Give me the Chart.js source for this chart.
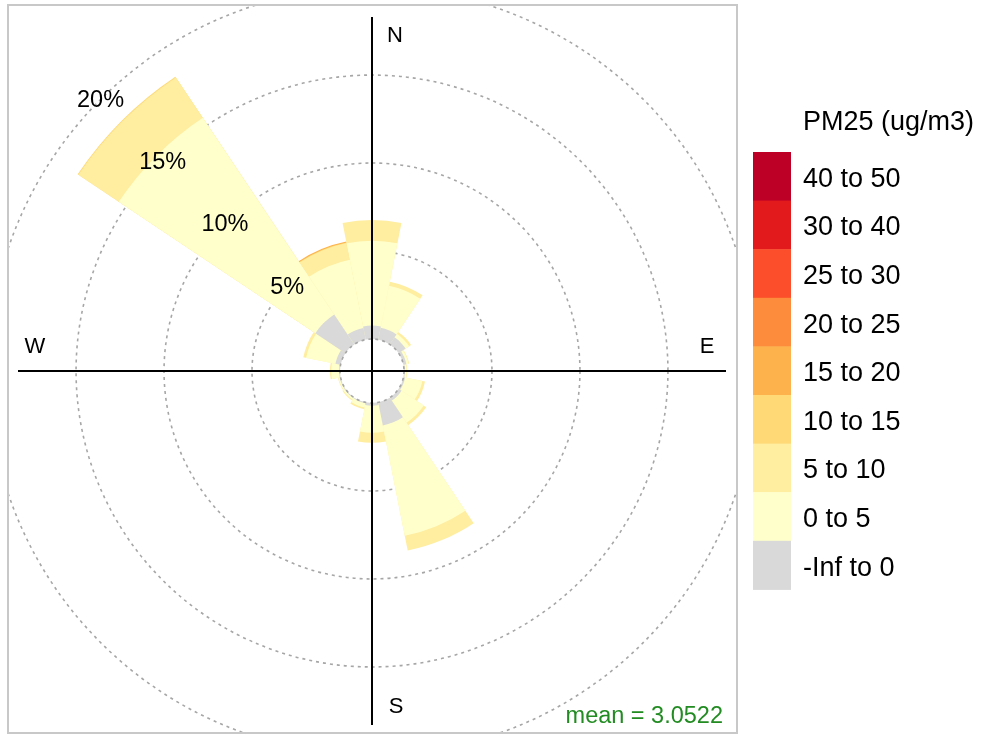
<!DOCTYPE html>
<html><head><meta charset="utf-8">
<script src="https://cdn.jsdelivr.net/npm/chart.js@4.4.1/dist/chart.umd.min.js"></script>
<style>html,body{margin:0;padding:0;background:#fff}#wrap{width:981px;height:735px;position:relative}</style>
</head><body><div id="wrap"><canvas id="c"></canvas></div>
<script>
// ---------- data ----------
const directions = ['N','NNE','NE','ENE','E','ESE','SE','SSE','S','SSW','SW','WSW','W','WNW','NW','NNW'];
const binLabels = ['-Inf to 0','0 to 5','5 to 10','10 to 15','15 to 20','20 to 25','25 to 30','30 to 40','40 to 50'];
const binColors = ['#D9D9D9','#FFFFCC','#FFEDA0','#FED976','#FEB24C','#FD8D3C','#FC4E2A','#E31A1C','#BD0026'];
// percentage of observations per direction in each PM25 bin
const pctNeg    = [0.76,0.68,0.48,0.17,0.05,0.10,0.20,1.34,0.15,0.05,0.05,0.05,0.05,0.30,2.05,0.67];
const pct0to5   = [4.83,2.44,0.24,0.13,0.10,1.00,1.52,6.39,1.54,0.25,0.10,0.07,0.45,1.70,13.44,3.96];
const pct5to10  = [1.17,0.23,0.13,0.03,0.03,0.15,0.16,0.85,0.57,0.10,0.05,0.03,0.07,0.16,2.76,0.97];
const pct10to15 = [0,0,0,0,0,0,0,0,0,0,0,0,0,0,0.05,0.03];
const pct15to20 = [0,0,0,0,0,0,0,0,0,0,0,0,0,0,0,0.05];
const pct20to25 = [0,0,0,0,0,0,0,0,0,0,0,0,0,0,0,0];
const pct25to30 = [0,0,0,0,0,0,0,0,0,0,0,0,0,0,0,0];
const pct30to40 = [0,0,0,0,0,0,0,0,0,0,0,0,0,0,0,0];
const pct40to50 = [0,0,0,0,0,0,0,0,0,0,0,0,0,0,0,0];
const percentTicks = [0,5,10,15,20];
const tickLabels = ['5%','10%','15%','20%'];
const compassLabels = ['N','E','S','W'];
const legendTitle = 'PM25 (ug/m3)';
const meanValue = 3.0522;

// ---------- build stacked (cumulative) datasets ----------
const bins = [pctNeg,pct0to5,pct5to10,pct10to15,pct15to20,pct20to25,pct25to30,pct30to40,pct40to50];
const R_MIN = -1.82;                       // radial offset (calm circle)
const cum = directions.map(() => 0);
const datasets = bins.map((b, k) => {
  const data = b.map((v, i) => { cum[i] += v; return v > 0 ? +cum[i].toFixed(4) : R_MIN; });
  return { label: binLabels[k], data, backgroundColor: binColors[k], borderWidth: 0 };
});
const totalMax = Math.max(...cum);

const FONT = '"Liberation Sans", Arial, sans-serif';
const GRID = '#a6a6a6';
const PANEL = {x: 8, y: 5, w: 729, h: 728};

const decor = {
  id: 'decor',
  beforeDraw(chart) {
    const ctx = chart.ctx;
    ctx.save();
    ctx.fillStyle = '#fff';
    ctx.fillRect(0, 0, chart.width, chart.height);
    ctx.beginPath();
    ctx.rect(PANEL.x, PANEL.y, PANEL.w, PANEL.h);
    ctx.clip();
  },
  afterDatasetsDraw(chart) {
    const s = chart.scales.r, ctx = chart.ctx;
    const r0 = s.getDistanceFromCenterForValue(0);
    ctx.save();
    ctx.fillStyle = '#fff';
    ctx.beginPath();
    ctx.arc(s.xCenter, s.yCenter, r0, 0, Math.PI * 2);
    ctx.fill();
    ctx.setLineDash([3, 4]);
    ctx.strokeStyle = GRID;
    ctx.lineWidth = 1.6;
    ctx.stroke();
    ctx.restore();
  },
  afterDraw(chart) {
    const s = chart.scales.r, ctx = chart.ctx;
    const xc = s.xCenter, yc = s.yCenter;
    const R = s.getDistanceFromCenterForValue(totalMax);
    // axes
    ctx.save();
    ctx.strokeStyle = '#000';
    ctx.lineWidth = 2;
    ctx.beginPath();
    ctx.moveTo(xc - R, yc); ctx.lineTo(xc + R, yc);
    ctx.moveTo(xc, yc - R); ctx.lineTo(xc, yc + R);
    ctx.stroke();
    // compass labels
    ctx.fillStyle = '#000';
    ctx.font = '22px ' + FONT;
    ctx.textAlign = 'center';
    ctx.textBaseline = 'middle';
    ctx.fillText(compassLabels[0], xc + 23, yc - R + 19);
    ctx.fillText(compassLabels[1], xc + R - 19, yc - 24);
    ctx.fillText(compassLabels[2], xc + 24, yc + R - 18);
    ctx.fillText(compassLabels[3], xc - R + 17, yc - 24);
    // percent labels along 315 deg
    ctx.font = '23.5px ' + FONT;
    percentTicks.slice(1).forEach((v, i) => {
      const r = s.getDistanceFromCenterForValue(v);
      ctx.fillText(tickLabels[i], xc - r * Math.SQRT1_2, yc - r * Math.SQRT1_2 + 1);
    });
    // mean
    ctx.fillStyle = '#228B22';
    ctx.textAlign = 'right';
    ctx.fillText('mean = ' + meanValue.toFixed(4), 723, 717);
    ctx.restore();
    ctx.restore(); // release panel clip
    // panel border
    ctx.save();
    ctx.strokeStyle = '#c8c8c8';
    ctx.lineWidth = 2;
    ctx.strokeRect(PANEL.x, PANEL.y, PANEL.w, PANEL.h);
    // legend
    ctx.fillStyle = '#000';
    ctx.font = '27px ' + FONT;
    ctx.textAlign = 'left';
    ctx.textBaseline = 'middle';
    ctx.fillText(legendTitle, 803, 123);
    const bx = 753, bw = 38, by = 152, bh = 48.6;
    for (let j = 0; j < binLabels.length; j++) {
      const k = binLabels.length - 1 - j;
      ctx.fillStyle = binColors[k];
      ctx.fillRect(bx, by + j * bh, bw, bh + 0.5);
      ctx.fillStyle = '#000';
      ctx.fillText(binLabels[k], 803, by + j * bh + bh / 2 + 3);
    }
    ctx.restore();
  }
};

new Chart(document.getElementById('c'), {
  type: 'polarArea',
  data: { labels: directions, datasets },
  options: {
    responsive: true,
    maintainAspectRatio: false,
    animation: false,
    events: [],
    layout: { padding: { left: 18, top: 17, right: 255, bottom: 10 } },
    plugins: { legend: { display: false }, tooltip: { enabled: false } },
    scales: {
      r: {
        min: R_MIN,
        max: totalMax,
        startAngle: -11.25,
        ticks: { display: false },
        afterBuildTicks: (scale) => { scale.ticks = percentTicks.map(v => ({ value: v })); },
        grid: { circular: true, color: GRID, lineWidth: 1.6 },
        border: { dash: [3, 4] },
        angleLines: { display: false },
        pointLabels: { display: false }
      }
    }
  },
  plugins: [decor]
});
</script>
</body></html>
